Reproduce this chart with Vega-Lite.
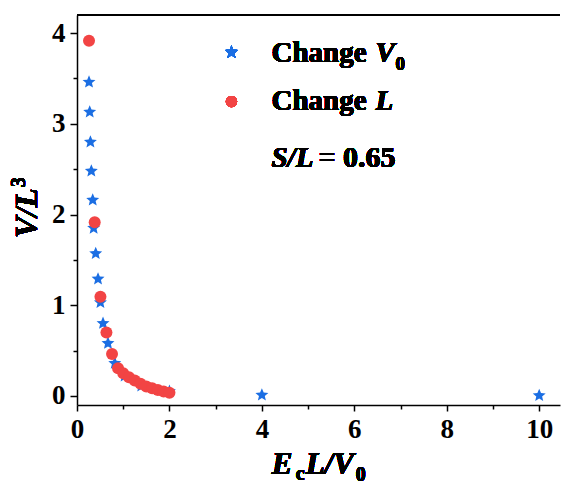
{
  "$schema": "https://vega.github.io/schema/vega-lite/v6.json",
  "width": 483,
  "height": 390,
  "autosize": "none",
  "padding": {"left": 77, "top": 15, "right": 1, "bottom": 95},
  "config": {"view": {"stroke": null}, "font": "Liberation Serif"},
  "data": {
    "values": [
      {"series": "V0", "x": 0.26, "y": 3.46},
      {"series": "V0", "x": 0.275, "y": 3.13},
      {"series": "V0", "x": 0.29, "y": 2.80},
      {"series": "V0", "x": 0.31, "y": 2.48},
      {"series": "V0", "x": 0.34, "y": 2.16},
      {"series": "V0", "x": 0.36, "y": 1.85},
      {"series": "V0", "x": 0.405, "y": 1.57},
      {"series": "V0", "x": 0.455, "y": 1.29},
      {"series": "V0", "x": 0.507, "y": 1.03},
      {"series": "V0", "x": 0.563, "y": 0.80},
      {"series": "V0", "x": 0.67, "y": 0.58},
      {"series": "V0", "x": 0.817, "y": 0.36},
      {"series": "V0", "x": 1.03, "y": 0.22},
      {"series": "V0", "x": 1.39, "y": 0.11},
      {"series": "V0", "x": 2.0, "y": 0.05},
      {"series": "V0", "x": 4.0, "y": 0.01},
      {"series": "V0", "x": 10.0, "y": 0.005},
      {"series": "L", "x": 0.26, "y": 3.915},
      {"series": "L", "x": 0.383, "y": 1.914},
      {"series": "L", "x": 0.507, "y": 1.094},
      {"series": "L", "x": 0.637, "y": 0.70},
      {"series": "L", "x": 0.758, "y": 0.463},
      {"series": "L", "x": 0.888, "y": 0.305},
      {"series": "L", "x": 1.0, "y": 0.25},
      {"series": "L", "x": 1.125, "y": 0.205},
      {"series": "L", "x": 1.25, "y": 0.17},
      {"series": "L", "x": 1.375, "y": 0.135},
      {"series": "L", "x": 1.5, "y": 0.105},
      {"series": "L", "x": 1.625, "y": 0.085},
      {"series": "L", "x": 1.75, "y": 0.065},
      {"series": "L", "x": 1.875, "y": 0.05},
      {"series": "L", "x": 2.0, "y": 0.035}
    ]
  },
  "layer": [
    {
      "transform": [{"filter": "datum.series === 'V0'"}],
      "mark": {"type": "point", "shape": "M0,-1L0.265,-0.364L0.951,-0.309L0.428,0.139L0.588,0.809L0,0.45L-0.588,0.809L-0.428,0.139L-0.951,-0.309L-0.265,-0.364Z", "filled": true, "size": 185, "color": "#1b6ee3", "opacity": 1},
      "encoding": {
        "x": {
          "field": "x",
          "type": "quantitative",
          "scale": {"domain": [0, 10.45], "nice": false, "zero": false},
          "axis": {
            "title": null,
            "grid": false,
            "values": [0, 1, 2, 3, 4, 5, 6, 7, 8, 9, 10],
            "labelExpr": "datum.value % 2 === 0 ? format(datum.value, 'd') : ''",
            "tickSize": 6,
            "tickDash": {"condition": {"test": "datum.value % 2 === 0", "value": []}, "value": [4, 20]},
            "labelFont": "Liberation Serif",
            "labelFontWeight": "bold",
            "labelFontSize": 27,
            "labelColor": "black",
            "labelPadding": 5,
            "labelFlush": false,
            "labelOverlap": false,
            "domainColor": "black",
            "domainWidth": 1.5,
            "tickColor": "black",
            "tickWidth": 1.5
          }
        },
        "y": {
          "field": "y",
          "type": "quantitative",
          "scale": {"domain": [-0.1, 4.2], "nice": false, "zero": false},
          "axis": {
            "title": null,
            "grid": false,
            "values": [0, 0.5, 1, 1.5, 2, 2.5, 3, 3.5, 4],
            "labelExpr": "datum.value % 1 === 0 ? format(datum.value, 'd') : ''",
            "tickSize": 7,
            "tickDash": {"condition": {"test": "datum.value % 1 === 0", "value": []}, "value": [4, 20]},
            "labelFont": "Liberation Serif",
            "labelFontWeight": "bold",
            "labelFontSize": 27,
            "labelColor": "black",
            "labelPadding": 5,
            "labelFlush": false,
            "labelOverlap": false,
            "domainColor": "black",
            "domainWidth": 1.5,
            "tickColor": "black",
            "tickWidth": 1.5
          }
        }
      }
    },
    {
      "transform": [{"filter": "datum.series === 'L'"}],
      "mark": {"type": "point", "shape": "circle", "filled": true, "size": 144, "color": "#f24444", "opacity": 1},
      "encoding": {
        "x": {"field": "x", "type": "quantitative"},
        "y": {"field": "y", "type": "quantitative"}
      }
    },
    {
      "mark": {"type": "rule", "color": "black", "strokeWidth": 1.5},
      "encoding": {"y": {"datum": 4.2}}
    },
    {
      "mark": {"type": "point", "shape": "M0,-1L0.265,-0.364L0.951,-0.309L0.428,0.139L0.588,0.809L0,0.45L-0.588,0.809L-0.428,0.139L-0.951,-0.309L-0.265,-0.364Z", "filled": true, "size": 185, "color": "#1b6ee3", "opacity": 1},
      "encoding": {"x": {"datum": 3.342}, "y": {"datum": 3.79}}
    },
    {
      "mark": {"type": "point", "shape": "circle", "filled": true, "size": 128, "color": "#f24444", "opacity": 1},
      "encoding": {"x": {"datum": 3.342}, "y": {"datum": 3.245}}
    },
    {
      "mark": {"type": "text", "text": "Change", "align": "left", "baseline": "alphabetic", "font": "Liberation Serif", "fontWeight": "bold", "fontSize": 29, "color": "black"},
      "encoding": {"x": {"datum": 4.208}, "y": {"datum": 3.686}}
    },
    {
      "mark": {"type": "text", "text": "V", "align": "left", "baseline": "alphabetic", "dx": 104, "font": "Liberation Serif", "fontWeight": "bold", "fontStyle": "italic", "fontSize": 29, "color": "black"},
      "encoding": {"x": {"datum": 4.208}, "y": {"datum": 3.686}}
    },
    {
      "mark": {"type": "text", "text": "0", "align": "left", "baseline": "alphabetic", "dx": 124, "dy": 8, "font": "Liberation Serif", "fontWeight": "bold", "fontSize": 19, "color": "black"},
      "encoding": {"x": {"datum": 4.208}, "y": {"datum": 3.686}}
    },
    {
      "mark": {"type": "text", "text": "Change", "align": "left", "baseline": "alphabetic", "font": "Liberation Serif", "fontWeight": "bold", "fontSize": 29, "color": "black"},
      "encoding": {"x": {"datum": 4.208}, "y": {"datum": 3.153}}
    },
    {
      "mark": {"type": "text", "text": "L", "align": "left", "baseline": "alphabetic", "dx": 104, "font": "Liberation Serif", "fontWeight": "bold", "fontStyle": "italic", "fontSize": 29, "color": "black"},
      "encoding": {"x": {"datum": 4.208}, "y": {"datum": 3.153}}
    },
    {
      "mark": {"type": "text", "text": "S/L", "align": "left", "baseline": "alphabetic", "font": "Liberation Serif", "fontWeight": "bold", "fontStyle": "italic", "fontSize": 29, "color": "black"},
      "encoding": {"x": {"datum": 4.208}, "y": {"datum": 2.528}}
    },
    {
      "mark": {"type": "text", "text": "= 0.65", "align": "left", "baseline": "alphabetic", "dx": 47, "font": "Liberation Serif", "fontWeight": "bold", "fontSize": 30, "color": "black"},
      "encoding": {"x": {"datum": 4.208}, "y": {"datum": 2.528}}
    },
    {
      "mark": {"type": "text", "text": "E", "align": "left", "baseline": "alphabetic", "font": "Liberation Serif", "fontWeight": "bold", "fontStyle": "italic", "fontSize": 31, "color": "black"},
      "encoding": {"x": {"datum": 4.214}, "y": {"datum": -0.86}}
    },
    {
      "mark": {"type": "text", "text": "c", "align": "left", "baseline": "alphabetic", "dx": 24, "dy": 6, "font": "Liberation Serif", "fontWeight": "bold", "fontSize": 20, "color": "black"},
      "encoding": {"x": {"datum": 4.214}, "y": {"datum": -0.86}}
    },
    {
      "mark": {"type": "text", "text": "L/V", "align": "left", "baseline": "alphabetic", "dx": 34, "font": "Liberation Serif", "fontWeight": "bold", "fontStyle": "italic", "fontSize": 31, "color": "black"},
      "encoding": {"x": {"datum": 4.214}, "y": {"datum": -0.86}}
    },
    {
      "mark": {"type": "text", "text": "0", "align": "left", "baseline": "alphabetic", "dx": 84, "dy": 7, "font": "Liberation Serif", "fontWeight": "bold", "fontSize": 20, "color": "black"},
      "encoding": {"x": {"datum": 4.214}, "y": {"datum": -0.86}}
    },
    {
      "mark": {"type": "text", "text": "V/L", "angle": 270, "align": "right", "baseline": "alphabetic", "font": "Liberation Serif", "fontWeight": "bold", "fontStyle": "italic", "fontSize": 32, "color": "black"},
      "encoding": {"x": {"datum": -0.872}, "y": {"datum": 2.29}}
    },
    {
      "mark": {"type": "text", "text": "3", "angle": 270, "align": "left", "baseline": "alphabetic", "dx": 1, "dy": -12, "font": "Liberation Serif", "fontWeight": "bold", "fontSize": 20, "color": "black"},
      "encoding": {"x": {"datum": -0.872}, "y": {"datum": 2.29}}
    }
  ]
}
